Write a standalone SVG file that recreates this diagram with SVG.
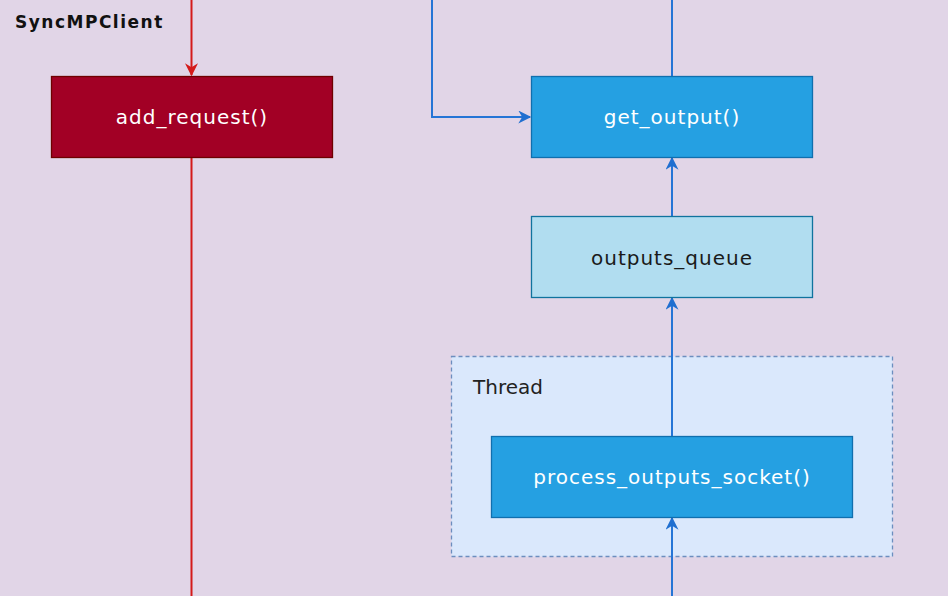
<svg xmlns="http://www.w3.org/2000/svg" width="948" height="596" viewBox="0 0 948 596">
<style>
text{font-family:"Comic Sans MS","DejaVu Sans",sans-serif;}
.lbl{font-size:20px;text-anchor:middle;dominant-baseline:central;letter-spacing:1px;}
.w{fill:#ffffff;}
.k{fill:#1a1a1a;}
.blue{fill:#25a0e2;stroke:#106fae;stroke-width:1.3;}
.red{fill:#a20025;stroke:#6f0000;stroke-width:1.3;}
.lb{fill:#b1ddf0;stroke:#10739e;stroke-width:1.3;}
.cb{stroke:#2575d6;stroke-width:2;fill:none;}
.cr{stroke:#d41a1a;stroke-width:2;fill:none;}
</style>
<defs>
<marker id="ab" viewBox="0 0 10 10" refX="9" refY="5" markerWidth="14" markerHeight="13" orient="auto" markerUnits="userSpaceOnUse"><path d="M0,0 L10,5 L0,10 L3,5 z" fill="#1f6fd0"/></marker>
<marker id="ar" viewBox="0 0 10 10" refX="9" refY="5" markerWidth="14" markerHeight="13" orient="auto" markerUnits="userSpaceOnUse"><path d="M0,0 L10,5 L0,10 L3,5 z" fill="#d41a1a"/></marker>
</defs>
<rect width="948" height="596" fill="#e1d5e7"/>
<text x="15" y="28" font-size="17" font-weight="bold" letter-spacing="1.5" fill="#111">SyncMPClient</text>
<g id="thread">
<rect x="451.5" y="356.5" width="441" height="200" fill="#dae8fc" stroke="#6c8ebf" stroke-width="1.3" stroke-dasharray="4 3"/>
<text x="473" y="387" font-size="20" fill="#222" dominant-baseline="central">Thread</text>
</g>
<g id="connectors">
<path class="cr" d="M191.5,0 V75" marker-end="url(#ar)"/>
<path class="cr" d="M191.5,157 V596"/>
<path class="cb" d="M432,0 V117 H530" marker-end="url(#ab)"/>
<path class="cb" d="M672,0 V76"/>
<path class="cb" d="M672,216 V158" marker-end="url(#ab)"/>
<path class="cb" d="M672,436 V298" marker-end="url(#ab)"/>
<path class="cb" d="M672,596 V518" marker-end="url(#ab)"/>
</g>
<g id="add_request">
<rect class="red" x="51.5" y="76.5" width="281" height="81"/>
<text class="lbl w" x="192" y="117">add_request()</text>
</g>
<g id="get_output">
<rect class="blue" x="531.5" y="76.5" width="281" height="81"/>
<text class="lbl w" x="672" y="117">get_output()</text>
</g>
<g id="outputs_queue">
<rect class="lb" x="531.5" y="216.5" width="281" height="81"/>
<text class="lbl k" x="672" y="258">outputs_queue</text>
</g>
<g id="process_outputs_socket">
<rect class="blue" x="491.5" y="436.5" width="361" height="81"/>
<text class="lbl w" x="672" y="477">process_outputs_socket()</text>
</g>
</svg>
